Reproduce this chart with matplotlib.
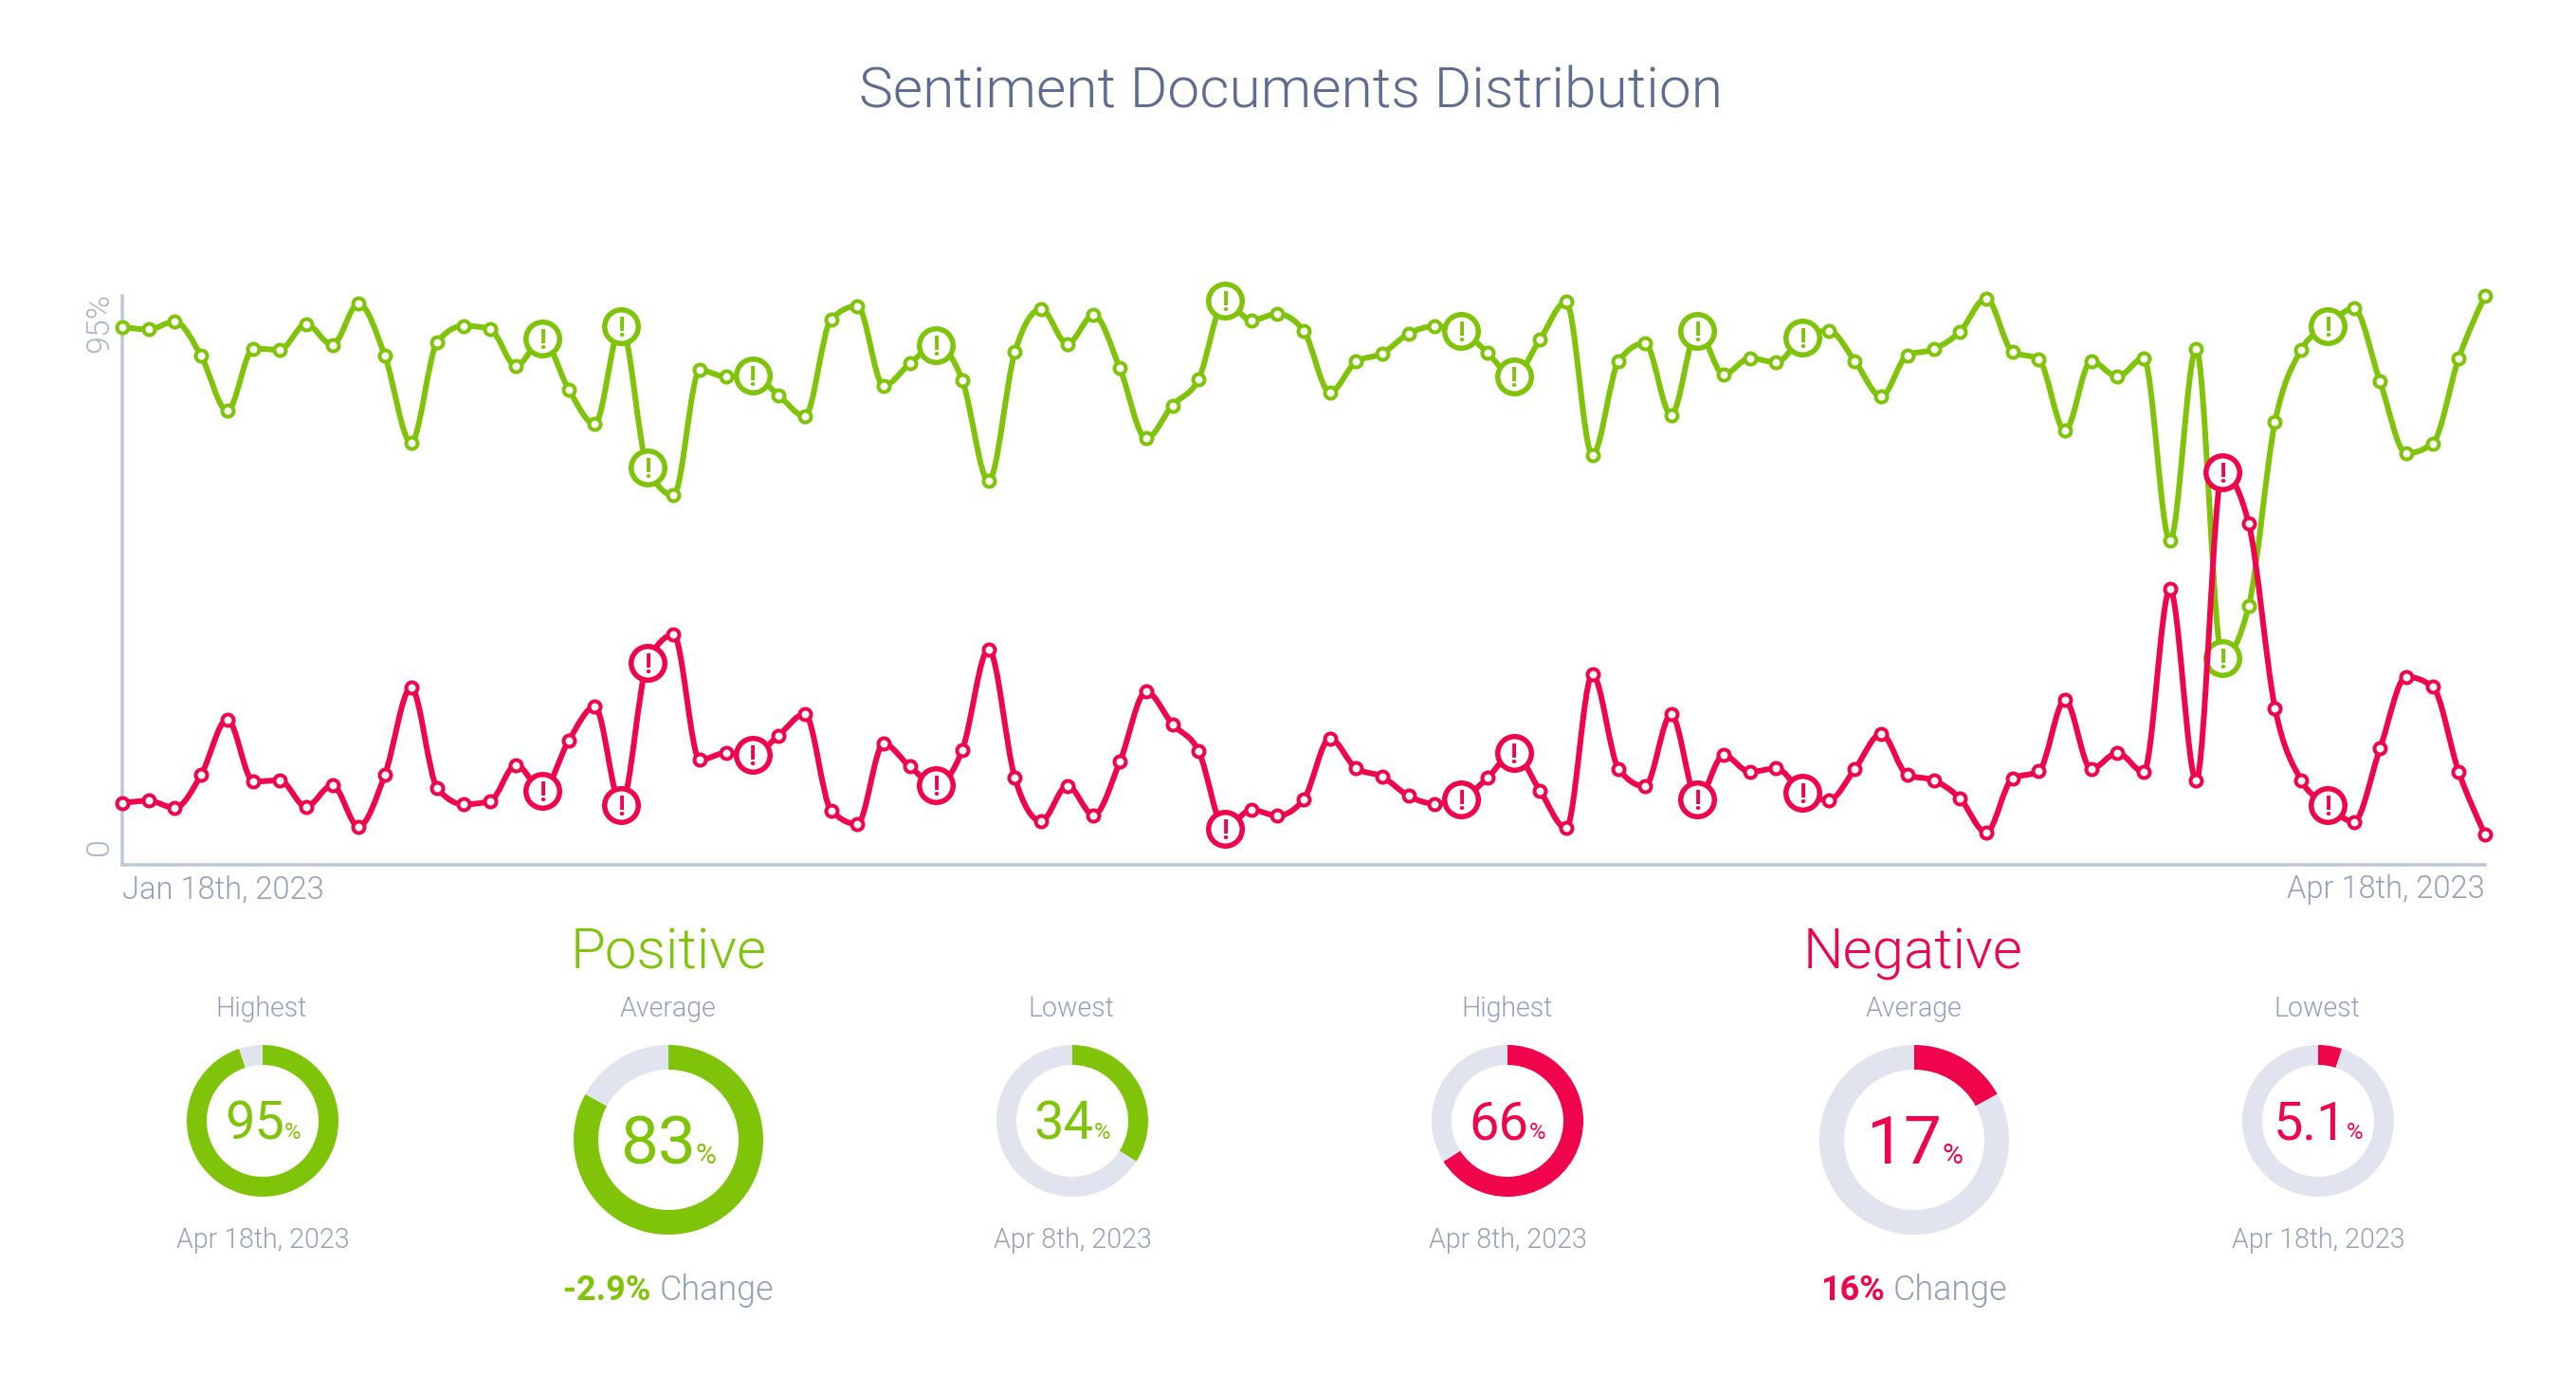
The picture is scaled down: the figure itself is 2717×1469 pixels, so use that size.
import matplotlib
matplotlib.use("Agg")
import matplotlib.pyplot as plt
import numpy as np
from matplotlib.path import Path
from matplotlib.patches import PathPatch
from matplotlib.transforms import ScaledTranslation

W, H = 2717, 1469
DPI = 100
plt.rcParams['font.family'] = ['Roboto', 'DejaVu Sans']

GREEN = '#7fc408'
RED = '#f0044c'
TRACK = '#e1e3ef'
AXIS = '#bfc8d8'
GREY = '#94a0ba'
TITLE = '#5f6c92'

title = 'Sentiment Documents Distribution'
x_labels = ['Jan 18th, 2023', 'Apr 18th, 2023']
y_ticks = [0, 95]
y_labels = ['0', '95%']

positive = [89.8, 89.4, 90.7, 85.0, 75.8, 86.2, 86.0, 90.3, 86.8, 93.7, 85.0, 70.5, 87.3, 90.0, 89.5, 83.3,
            87.8, 79.4, 73.6, 90.0, 66.4, 61.7, 82.6, 81.5, 81.7, 78.4, 74.9, 91.1, 93.3, 80.0, 83.7, 86.8,
            80.9, 64.1, 85.6, 92.8, 87.0, 91.8, 82.9, 71.2, 76.7, 81.1, 94.2, 90.9, 92.0, 89.2, 78.9, 84.0,
            85.4, 88.7, 89.9, 89.2, 85.5, 81.5, 87.7, 94.0, 68.4, 84.1, 87.1, 75.1, 89.2, 81.9, 84.6, 83.9,
            88.0, 89.2, 84.1, 78.2, 85.1, 86.1, 89.0, 94.6, 85.7, 84.4, 72.5, 84.1, 81.5, 84.6, 54.1, 86.1,
            34.5, 43.2, 73.9, 86.0, 90.0, 92.9, 80.7, 68.7, 70.3, 84.6, 95.0]
negative = [10.3, 10.7, 9.5, 15.0, 24.3, 13.9, 14.1, 9.7, 13.3, 6.4, 15.0, 29.6, 12.8, 10.1, 10.6, 16.7,
            12.4, 20.7, 26.4, 10.0, 33.7, 38.4, 17.5, 18.7, 18.3, 21.6, 25.2, 9.1, 6.8, 20.2, 16.4, 13.3,
            19.2, 36.0, 14.5, 7.3, 13.2, 8.3, 17.2, 28.9, 23.5, 19.0, 6.0, 9.2, 8.2, 10.9, 21.1, 16.1,
            14.7, 11.5, 10.2, 10.9, 14.5, 18.7, 12.4, 6.1, 31.8, 16.0, 13.1, 25.1, 10.9, 18.3, 15.5, 16.1,
            12.1, 10.8, 16.0, 21.9, 15.0, 14.1, 11.1, 5.4, 14.4, 15.6, 27.5, 16.0, 18.7, 15.5, 46.0, 14.1,
            65.5, 57.0, 26.2, 14.1, 10.0, 7.2, 19.4, 31.4, 29.8, 15.5, 5.1]
alert_days = [16, 19, 20, 24, 31, 42, 51, 53, 60, 64, 80, 84]

donut_headers = ['Highest', 'Average', 'Lowest', 'Highest', 'Average', 'Lowest']
donut_values = [95, 83, 34, 66, 17, 5.1]
donut_labels = ['95', '83', '34', '66', '17', '5.1']
donut_dates = ['Apr 18th, 2023', None, 'Apr 8th, 2023', 'Apr 8th, 2023', None, 'Apr 18th, 2023']
donut_changes = [None, '-2.9%', None, None, '16%', None]
group_names = ['Positive', 'Negative']

fig = plt.figure(figsize=(W / DPI, H / DPI), dpi=DPI, facecolor='white')


def pt(px):
    return px * 72 / DPI


def ftext(x, y, s, **kw):
    return fig.text(x / W, 1 - y / H, s, **kw)


def box(l, t, r, b):
    return [l / W, 1 - b / H, (r - l) / W, (b - t) / H]


def monotone_path(xs, ys):
    xs = np.asarray(xs, float)
    ys = np.asarray(ys, float)
    d = np.diff(ys) / np.diff(xs)
    m = np.zeros_like(ys)
    for i in range(1, len(ys) - 1):
        if d[i - 1] * d[i] > 0:
            m[i] = (np.sign(d[i - 1]) + np.sign(d[i])) * min(abs(d[i - 1]), abs(d[i]), 0.25 * abs(d[i - 1] + d[i]))
    m[0] = 1.5 * d[0] - 0.5 * m[1]
    m[-1] = 1.5 * d[-1] - 0.5 * m[-2]
    verts = [(xs[0], ys[0])]
    codes = [Path.MOVETO]
    for i in range(len(xs) - 1):
        h = (xs[i + 1] - xs[i]) / 3
        verts += [(xs[i] + h, ys[i] + m[i] * h), (xs[i + 1] - h, ys[i + 1] - m[i + 1] * h), (xs[i + 1], ys[i + 1])]
        codes += [Path.CURVE4] * 3
    return Path(verts, codes)


ax = fig.add_axes(box(129, 312, 2621, 912))
days = np.arange(len(positive))
ax.set_xlim(0, days[-1])
ax.set_ylim(0, 95)
for s in ('top', 'right'):
    ax.spines[s].set_visible(False)
for s in ('left', 'bottom'):
    ax.spines[s].set_color(AXIS)
    ax.spines[s].set_linewidth(pt(3.5))
ax.set_xticks([days[0], days[-1]], x_labels)
ax.set_yticks(y_ticks, y_labels)
ax.tick_params(axis='both', length=0, labelcolor=GREY)
ax.tick_params(axis='x', pad=pt(10), labelsize=pt(32.7))
ax.tick_params(axis='y', pad=pt(8), labelsize=pt(34))
for lab in ax.get_xticklabels():
    lab.set_fontweight(300)
xl = ax.get_xticklabels()
xl[0].set_ha('left')
xl[1].set_ha('right')
yl = ax.get_yticklabels()
for lab in yl:
    lab.set_rotation(90)
    lab.set_fontweight(300)
    lab.set_color('#aab5ca')
yl[0].set_va('bottom')
yl[1].set_va('top')
yl[0].set_transform(yl[0].get_transform() + ScaledTranslation(0, 10 / DPI, fig.dpi_scale_trans))
yl[1].set_transform(yl[1].get_transform() + ScaledTranslation(0, 3 / DPI, fig.dpi_scale_trans))

for series, col, z in ((positive, GREEN, 3), (negative, RED, 6)):
    ax.add_patch(PathPatch(monotone_path(days, series), fc='none', ec=col, lw=pt(6),
                           zorder=z, clip_on=False, capstyle='round', joinstyle='round'))
    ax.plot(days, series, 'o', ms=pt(12), mfc='white', mec=col, mew=pt(4), zorder=z + 0.1, clip_on=False)
    vals = np.asarray(series)[alert_days]
    ax.plot(alert_days, vals, 'o', ms=pt(35.5), mfc='white', mec=col, mew=pt(5.5), zorder=z + 0.2, clip_on=False)
    for d, v in zip(alert_days, vals):
        ax.text(d, v, '!', color=col, fontsize=pt(29), fontweight='bold', ha='center', va='center_baseline',
                zorder=z + 0.3, clip_on=False)

ftext(1361, 97, title, color=TITLE, fontsize=pt(60.5), fontweight=300, ha='center', va='center')

ftext(705, 1022, group_names[0], color=GREEN, fontsize=pt(60), fontweight=300, ha='center', va='baseline')
ftext(2018, 1022, group_names[1], color=RED, fontsize=pt(60), fontweight=300, ha='center', va='baseline')

centers_x = [277, 705, 1131, 1590, 2019, 2445]
renderer = fig.canvas.get_renderer()
for i, cx in enumerate(centers_x):
    col = GREEN if i < 3 else RED
    big = i in (1, 4)
    r = 100 if big else 80
    ring = 26 if big else 21
    cy = 1202 if big else 1182
    a = fig.add_axes(box(cx - r, cy - r, cx + r, cy + r))
    a.pie([donut_values[i], 100 - donut_values[i]], colors=[col, TRACK], startangle=90, counterclock=False,
          radius=1, wedgeprops=dict(width=ring / r, linewidth=0))
    a.set_xlim(-1, 1)
    a.set_ylim(-1, 1)
    a.set_aspect('equal')
    a.axis('off')

    ftext(cx - 1, 1072, donut_headers[i], color=GREY, fontsize=pt(28.5), fontweight=300, ha='center', va='baseline')
    if donut_dates[i]:
        ftext(cx, 1316, donut_dates[i], color=GREY, fontsize=pt(28.5), fontweight=300, ha='center', va='baseline')

    fs, fp, base = (71, 30, 1227) if big else (56, 24, 1201)
    t1 = ftext(0, base, donut_labels[i], color=col, fontsize=pt(fs), fontweight=400, ha='left', va='baseline')
    t2 = ftext(0, base, '%', color=col, fontsize=pt(fp), fontweight=400, ha='left', va='baseline')
    w1 = t1.get_window_extent(renderer).width
    w2 = t2.get_window_extent(renderer).width
    x0 = cx - (w1 + w2) / 2
    t1.set_x(x0 / W)
    t2.set_x((x0 + w1) / W)

    if donut_changes[i]:
        t1 = ftext(0, 1371, donut_changes[i], color=col, fontsize=pt(36), fontweight='bold', ha='left', va='baseline')
        t2 = ftext(0, 1371, 'Change', color=GREY, fontsize=pt(36), fontweight=300, ha='left', va='baseline')
        w1 = t1.get_window_extent(renderer).width
        w2 = t2.get_window_extent(renderer).width
        x0 = cx - (w1 + w2 + 9) / 2
        t1.set_x(x0 / W)
        t2.set_x((x0 + w1 + 9) / W)

fig.savefig('out.png', dpi=DPI, facecolor='white')
